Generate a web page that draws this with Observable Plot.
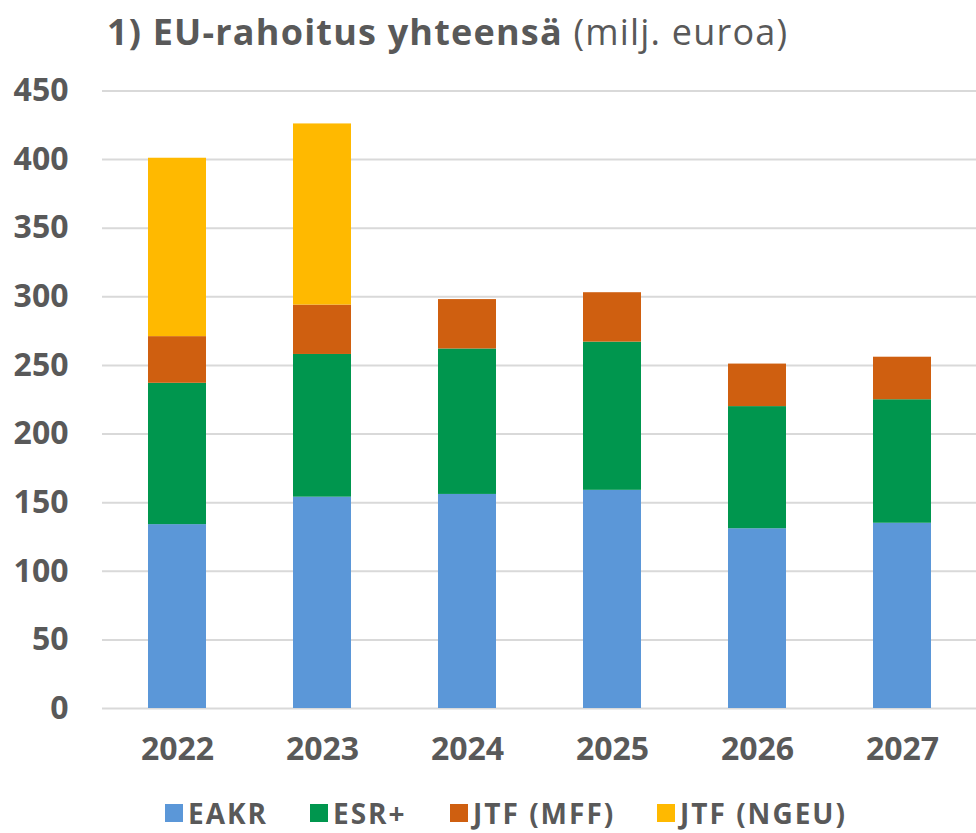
<!DOCTYPE html>
<html>
<head>
<meta charset="utf-8">
<script src="https://cdn.jsdelivr.net/npm/d3@7"></script>
<script src="https://cdn.jsdelivr.net/npm/@observablehq/plot@0.6"></script>
<style>
  html, body { margin: 0; background: #fff; font-family: "Open Sans", sans-serif; color: #595959; }
  #wrap { position: relative; width: 976px; height: 833px; }
  #title { position: absolute; left: 107px; top: 7px; font-size: 36px; letter-spacing: 1.2px; white-space: nowrap; z-index: 2; }
  #title b { font-weight: 700; }
  #chart { position: absolute; left: 0; top: 60px; z-index: 1; }
  #legend { position: absolute; left: 0; top: 794px; width: 976px; height: 38px; }
  .item { position: absolute; top: 0; display: flex; align-items: center; font-size: 28px; letter-spacing: 2px; font-weight: 700; white-space: nowrap; }
  .sw { width: 18px; height: 18px; margin-right: 5px; }
</style>
</head>
<body>
<div id="wrap">
  <div id="title"><b>1) EU-rahoitus yhteensä</b> (milj. euroa)</div>
  <div id="chart"></div>
  <div id="legend"></div>
</div>
<script>
const years = ["2022", "2023", "2024", "2025", "2026", "2027"];
const seriesNames = ["EAKR", "ESR+", "JTF (MFF)", "JTF (NGEU)"];
const eakr = [134, 154, 156, 159, 131, 135];
const esr = [103, 104, 106, 108, 89, 90];
const jtfMff = [34, 36, 36, 36, 31, 31];
const jtfNgeu = [130, 132, 0, 0, 0, 0];
const colors = ["#5b97d8", "#00964e", "#cf5f10", "#ffb900"];
const yTicks = [0, 50, 100, 150, 200, 250, 300, 350, 400, 450];
const legendX = [165, 310, 450, 657];

const valuesBySeries = [eakr, esr, jtfMff, jtfNgeu];
const data = years.flatMap((yr, i) =>
  seriesNames.map((s, j) => ({ year: yr, series: s, value: valuesBySeries[j][i] }))
);

const chart = Plot.plot({
  width: 976,
  height: 715,
  marginLeft: 102,
  marginRight: 0,
  marginTop: 30.5,
  marginBottom: 67,
  style: { fontFamily: "Open Sans", fontSize: "32px", fontWeight: 700, color: "#595959", background: "transparent" },
  x: { domain: years, paddingInner: 0.6, paddingOuter: 0.3, label: null, tickSize: 0, tickPadding: 29 },
  y: { domain: [0, 450], ticks: yTicks, label: null, tickSize: 0, tickPadding: 34 },
  color: { domain: seriesNames, range: colors },
  marks: [
    Plot.gridY(yTicks, { stroke: "#d9d9d9", strokeOpacity: 1, strokeWidth: 2 }),
    Plot.barY(data, { x: "year", y: "value", fill: "series", order: seriesNames }),
    Plot.axisY(yTicks, { tickSize: 0, tickPadding: 34, label: null }),
    Plot.axisX({ tickSize: 0, tickPadding: 29, label: null })
  ]
});
document.getElementById("chart").appendChild(chart);

const legend = document.getElementById("legend");
seriesNames.forEach((s, j) => {
  const it = document.createElement("div");
  it.className = "item";
  it.style.left = legendX[j] + "px";
  const sw = document.createElement("div");
  sw.className = "sw";
  sw.style.background = colors[j];
  const t = document.createElement("span");
  t.textContent = s;
  it.appendChild(sw);
  it.appendChild(t);
  legend.appendChild(it);
});
</script>
</body>
</html>
